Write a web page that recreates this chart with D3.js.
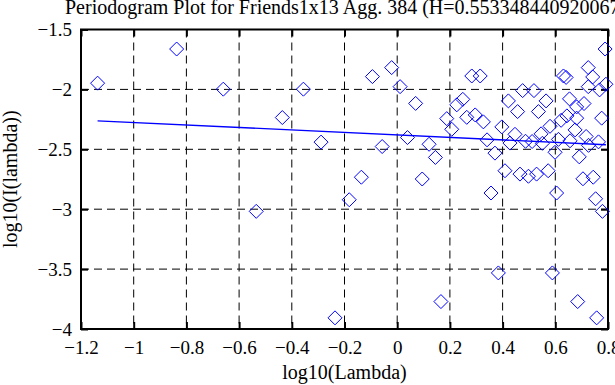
<!DOCTYPE html>
<meta charset="utf-8">
<style>
    body { margin: 0; background: #fff; }
    svg { display: block; }
    text { font-family: "Liberation Serif", "Times New Roman", serif; font-size: 20px; fill: #000; }
    .grid { stroke: #000; stroke-width: 1; stroke-dasharray: 8,5; }
    .axis .domain { display: none; }
    .axis line { stroke: #000; stroke-width: 2; }
    .axis text { font-family: "Liberation Serif", serif; font-size: 19px; }
</style>
<svg width="615" height="385"></svg>
<script src="https://d3js.org/d3.v7.min.js"></script>
<script>

    var title = "Periodogram Plot for Friends1x13 Agg. 384 (H=0.553348440920067)";
    var xTicks = [-1.2, -1, -0.8, -0.6, -0.4, -0.2, 0, 0.2, 0.4, 0.6, 0.8];
    var yTicks = [-1.5, -2, -2.5, -3, -3.5, -4];

    // log10(lambda) and log10(I(lambda))
    var logLambda = [
        -1.137, -0.837, -0.660, -0.436, -0.356, -0.289, -0.535, -0.236,
        -0.182, -0.136, -0.094, -0.057, -0.021, 0.011, 0.039, 0.070,
        0.095, 0.121, 0.145, 0.166, 0.188, 0.207, 0.226, 0.249,
        0.264, 0.283, 0.296, 0.315, 0.327, 0.341, 0.356, 0.371,
        0.384, 0.397, 0.409, 0.422, 0.428, 0.447, 0.457, 0.466,
        0.476, 0.487, 0.498, 0.512, 0.519, 0.529, 0.536, 0.546,
        0.551, 0.565, 0.573, 0.580, 0.589, 0.599, 0.605, 0.612,
        0.622, 0.631, 0.641, 0.644, 0.654, 0.656, 0.675, 0.681,
        0.681, 0.685, 0.691, 0.705, 0.709, 0.717, 0.725, 0.725,
        0.726, 0.742, 0.744, 0.753, 0.757, 0.764, 0.768, 0.776,
        0.779, 0.789, 0.792
    ];
    var logI = [
        -1.948, -1.663, -1.998, -2.235, -1.998, -2.440, -3.018, -3.907,
        -2.921, -2.733, -1.893, -2.477, -1.818, -1.977, -2.402, -2.117,
        -2.748, -2.458, -2.568, -3.771, -2.244, -2.333, -2.129, -2.083,
        -2.233, -1.888, -2.213, -1.888, -2.271, -2.421, -2.865, -2.532,
        -3.532, -2.313, -2.679, -2.096, -2.448, -2.375, -2.185, -2.707,
        -2.010, -2.433, -2.725, -2.435, -2.010, -2.707, -2.185, -2.371,
        -2.450, -2.096, -2.679, -2.308, -3.532, -2.525, -2.865, -2.417,
        -2.258, -1.888, -1.900, -2.221, -2.079, -2.429, -2.338, -2.146,
        -2.240, -3.771, -2.563, -2.746, -2.118, -2.393, -1.818, -1.977,
        -2.467, -1.896, -2.733, -2.913, -3.907, -2.438, -2.004, -2.240,
        -3.018, -1.663, -1.957
    ];

    // least squares line end points
    var fitX = [-1.137, 0.792];
    var fitY = [-2.262, -2.462];

    var svg = d3.select("svg"),
        pLeft = 81, pRight = 608, pTop = 29.5, pBottom = 329;

    var x = d3.scaleLinear().domain([-1.2, 0.8]).range([pLeft, pRight]);
    var y = d3.scaleLinear().domain([-4, -1.5]).range([pBottom, pTop]);

    var fmt = function (d) { return d3.format("")(d).replace("-", "\u2212"); };

    // frame
    svg.append("rect")
        .attr("x", pLeft).attr("y", pTop)
        .attr("width", pRight - pLeft).attr("height", pBottom - pTop)
        .attr("fill", "none").attr("stroke", "#000").attr("stroke-width", 2);

    // grid
    svg.append("g").selectAll("line")
        .data(xTicks.slice(1, -1))
        .enter().append("line")
        .attr("class", "grid")
        .attr("x1", function (d) { return x(d); })
        .attr("x2", function (d) { return x(d); })
        .attr("y1", pTop).attr("y2", pBottom);

    svg.append("g").selectAll("line")
        .data(yTicks.slice(1, -1))
        .enter().append("line")
        .attr("class", "grid")
        .attr("y1", function (d) { return y(d); })
        .attr("y2", function (d) { return y(d); })
        .attr("x1", pLeft).attr("x2", pRight);

    // axes, ticks pointing inward
    svg.append("g").attr("class", "axis")
        .attr("transform", "translate(0," + pBottom + ")")
        .call(d3.axisBottom(x).tickValues(xTicks).tickFormat(fmt).tickSize(-7).tickPadding(12));

    svg.append("g").attr("class", "axis")
        .attr("transform", "translate(" + pLeft + ",0)")
        .call(d3.axisLeft(y).tickValues(yTicks).tickFormat(fmt).tickSize(-7).tickPadding(9));

    svg.append("g").attr("class", "axis")
        .attr("transform", "translate(0," + pTop + ")")
        .call(d3.axisTop(x).tickValues(xTicks).tickFormat("").tickSize(-7));

    svg.append("g").attr("class", "axis")
        .attr("transform", "translate(" + pRight + ",0)")
        .call(d3.axisRight(y).tickValues(yTicks).tickFormat("").tickSize(-7));

    // fitted line
    svg.append("path")
        .datum(d3.zip(fitX, fitY))
        .attr("fill", "none")
        .attr("stroke", "#0000ff")
        .attr("stroke-width", 1.3)
        .attr("d", d3.line().x(function (d) { return x(d[0]); }).y(function (d) { return y(d[1]); }));

    // periodogram points as diamonds
    var diamond = "M0,-7L7,0L0,7L-7,0Z";
    svg.append("g").selectAll("path")
        .data(d3.zip(logLambda, logI))
        .enter().append("path")
        .attr("d", diamond)
        .attr("transform", function (d) { return "translate(" + x(d[0]) + "," + y(d[1]) + ")"; })
        .attr("fill", "none")
        .attr("stroke", "#0000ff")
        .attr("stroke-width", 1);

    // labels
    svg.append("text")
        .attr("x", 65).attr("y", 14)
        .text(title);

    svg.append("text")
        .attr("x", (pLeft + pRight) / 2).attr("y", 379)
        .attr("text-anchor", "middle")
        .text("log10(Lambda)");

    svg.append("text")
        .attr("transform", "translate(17," + (pTop + pBottom) / 2 + ") rotate(-90)")
        .attr("text-anchor", "middle")
        .text("log10(I(lambda))");
</script>
